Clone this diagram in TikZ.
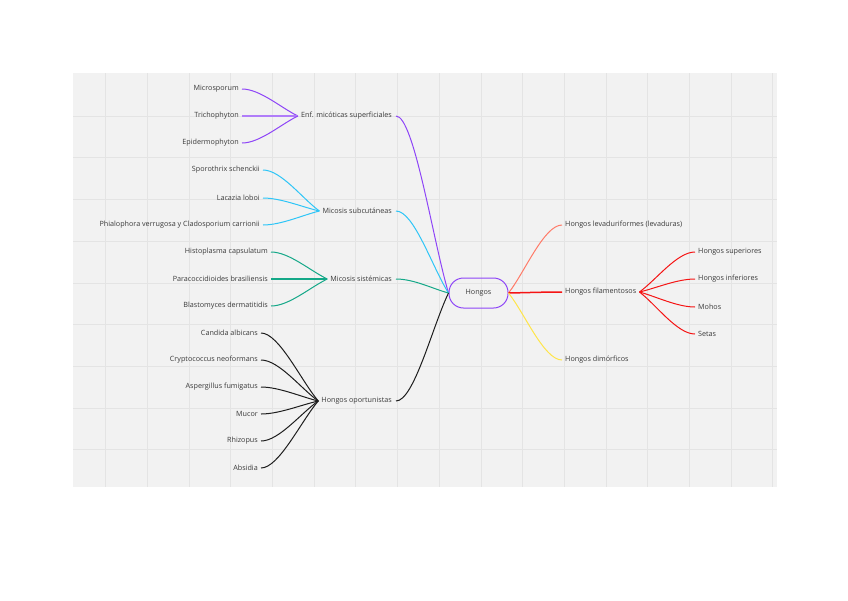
\documentclass[tikz,border=0pt]{standalone}
\usepackage{fontspec}
\setmainfont{Open Sans}
\usetikzlibrary{calc}
\definecolor{bggrey}{HTML}{F2F2F2}
\definecolor{gridgrey}{HTML}{E4E4E4}
\definecolor{txt}{HTML}{3A3A3A}
\definecolor{cpurple}{HTML}{8E45F7}
\definecolor{ccyan}{HTML}{2EC5F7}
\definecolor{cteal}{HTML}{14A888}
\definecolor{cblack}{HTML}{1E1E1E}
\definecolor{csalmon}{HTML}{FF7B69}
\definecolor{cred}{HTML}{F51414}
\definecolor{cyellow}{HTML}{FFE54A}
\newcommand\lnkL[4][18]{\draw[#2] (#3) .. controls ($(#3)!0.3!(#4)$) and ($(#4)+(#1,0)$) .. (#4);}
\newcommand\lnkR[4][18]{\draw[#2] (#3) .. controls ($(#3)!0.3!(#4)$) and ($(#4)+(-#1,0)$) .. (#4);}
\begin{document}
\begin{tikzpicture}[x=1pt,y=-1pt,
  lbl/.style={text=txt,font=\fontsize{7.2}{8}\selectfont,inner ysep=1pt,inner xsep=3pt},
  leafL/.style={lbl,anchor=east},
  leafR/.style={lbl,anchor=west},
  lk/.style={line width=1pt},
  lks/.style={line width=1.5pt}]
\useasboundingbox (0,0) rectangle (848,600);
\fill[white] (0,0) rectangle (848,600);
\fill[bggrey] (73,73) rectangle (777,487);
\foreach \i in {0,...,16} \draw[gridgrey,line width=0.6pt] (105.5+41.7*\i,73) -- (105.5+41.7*\i,487);
\foreach \i in {1,...,9} \draw[gridgrey,line width=0.6pt] (73,74.3+41.7*\i) -- (777,74.3+41.7*\i);

% central node
\node[draw=cpurple,line width=1pt,rounded corners=14.5pt,minimum width=59pt,minimum height=30pt,text=txt,font=\fontsize{7.2}{8}\selectfont] (hongos) at (478.5,293) {Hongos};

% left level 1
\node[leafL,inner xsep=4pt] (enf) at (396,116) {Enf. micóticas superficiales};
\node[leafL,inner xsep=4pt] (sub) at (396,211) {Micosis subcutáneas};
\node[leafL,inner xsep=4pt] (sis) at (396,279) {Micosis sistémicas};
\node[leafL,inner xsep=4pt] (opo) at (396,401) {Hongos oportunistas};

% right level 1
\node[leafR] (lev) at (562,225) {Hongos levaduriformes (levaduras)};
\node[leafR] (fil) at (562,292) {Hongos filamentosos};
\node[leafR] (dim) at (562,360) {Hongos dimórficos};

% right leaves
\node[leafR] (sup) at (695,252) {Hongos superiores};
\node[leafR] (inf) at (695,279) {Hongos inferiores};
\node[leafR] (moh) at (695,307) {Mohos};
\node[leafR] (set) at (695,334) {Setas};

% left leaves
\node[leafL] (mic) at (242,89) {Microsporum};
\node[leafL] (tri) at (242,116) {Trichophyton};
\node[leafL] (epi) at (242,143) {Epidermophyton};

\node[leafL] (spo) at (263,170) {Sporothrix schenckii};
\node[leafL] (lac) at (263,198) {Lacazia loboi};
\node[leafL] (phi) at (263,225) {Phialophora verrugosa y Cladosporium carrionii};

\node[leafL] (his) at (271,252) {Histoplasma capsulatum};
\node[leafL] (par) at (271,279) {Paracoccidioides brasiliensis};
\node[leafL] (bla) at (271,306) {Blastomyces dermatitidis};

\node[leafL] (can) at (261,333) {Candida albicans};
\node[leafL] (cry) at (261,360) {Cryptococcus neoformans};
\node[leafL] (asp) at (261,387) {Aspergillus fumigatus};
\node[leafL] (muc) at (261,414) {Mucor};
\node[leafL] (rhi) at (261,441) {Rhizopus};
\node[leafL] (abs) at (261,468) {Absidia};

\coordinate (enfin) at ($(enf.west)+(1,0)$);
\coordinate (subin) at ($(sub.west)+(1,0)$);
\coordinate (sisin) at ($(sis.west)+(1,0)$);
\coordinate (opoin) at ($(opo.west)+(1,0)$);

% connectors: hongos to level 1
\lnkL{lk,cpurple}{hongos.west}{enf.east}
\lnkL{lk,ccyan}{hongos.west}{sub.east}
\lnkL{lk,cteal}{hongos.west}{sis.east}
\lnkL{lk,cblack}{hongos.west}{opo.east}
\lnkR{lk,csalmon}{hongos.east}{lev.west}
\lnkR{lks,cred}{hongos.east}{fil.west}
\lnkR{lk,cyellow}{hongos.east}{dim.west}

% filamentosos leaves
\lnkR{lk,cred}{fil.east}{sup.west}
\lnkR{lk,cred}{fil.east}{inf.west}
\lnkR{lk,cred}{fil.east}{moh.west}
\lnkR{lk,cred}{fil.east}{set.west}

% left leaves
\lnkL{lk,cpurple}{enfin}{mic.east}
\lnkL{lks,cpurple!70}{enfin}{tri.east}
\lnkL{lk,cpurple}{enfin}{epi.east}

\lnkL{lk,ccyan}{subin}{spo.east}
\lnkL{lk,ccyan}{subin}{lac.east}
\lnkL{lk,ccyan}{subin}{phi.east}

\lnkL{lk,cteal}{sisin}{his.east}
\lnkL{lks,cteal}{sisin}{par.east}
\lnkL{lk,cteal}{sisin}{bla.east}

\lnkL{lk,cblack}{opoin}{can.east}
\lnkL{lk,cblack}{opoin}{cry.east}
\lnkL{lk,cblack}{opoin}{asp.east}
\lnkL{lk,cblack}{opoin}{muc.east}
\lnkL{lk,cblack}{opoin}{rhi.east}
\lnkL{lk,cblack}{opoin}{abs.east}
\end{tikzpicture}
\end{document}
